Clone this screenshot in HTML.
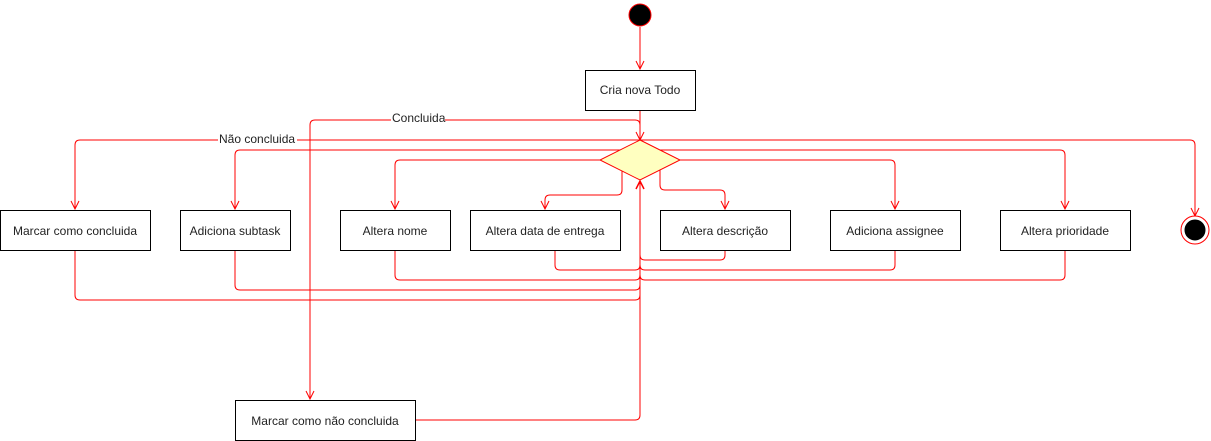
<!DOCTYPE html>
<html><head><meta charset="utf-8"><style>
html,body{margin:0;padding:0;background:#fff;}
svg{display:block;}
text{font-family:"Liberation Sans",sans-serif;font-size:12px;fill:#222;}
</style></head><body>
<svg width="1211" height="441" viewBox="0 0 1211 441" xmlns="http://www.w3.org/2000/svg">
<g fill="none" stroke="#ff0000" stroke-width="1">
<!-- start -->
<line x1="640" y1="27" x2="640" y2="69"/>
<polyline points="636,61 640,69 644,61"/>
<line x1="640" y1="110" x2="640" y2="140"/>
<polyline points="636,132 640,140 644,132"/>
<!-- Concluida -->
<path d="M640,125 Q640,120 635,120 L315,120 Q310,120 310,125 L310,399"/>
<polyline points="306,391 310,399 314,391"/>
<!-- Nao concluida -->
<path d="M75,209 L75,145 Q75,140 80,140 L1190,140 Q1195,140 1195,145 L1195,215"/>
<polyline points="71,201 75,209 79,201"/>
<polyline points="1191,208 1195,216 1199,208"/>
<!-- y=150 -->
<path d="M235,209 L235,155 Q235,150 240,150 L1060,150 Q1065,150 1065,155 L1065,209"/>
<polyline points="231,201 235,209 239,201"/>
<polyline points="1061,201 1065,209 1069,201"/>
<!-- y=160 -->
<path d="M600,160 L400,160 Q395,160 395,165 L395,209"/>
<polyline points="391,201 395,209 399,201"/>
<path d="M680,160 L890,160 Q895,160 895,165 L895,209"/>
<polyline points="891,201 895,209 899,201"/>
<!-- lower branches -->
<path d="M622,171 L622,190 Q622,195 617,195 L550,195 Q545,195 545,200 L545,209"/>
<polyline points="541,201 545,209 549,201"/>
<path d="M660,170 L660,185 Q660,190 665,190 L720,190 Q725,190 725,195 L725,209"/>
<polyline points="721,201 725,209 729,201"/>
<!-- returns -->
<path d="M555,250 L555,265 Q555,270 560,270 L635,270 Q640,270 640,265"/>
<path d="M395,250 L395,275 Q395,280 400,280 L635,280 Q640,280 640,275"/>
<path d="M235,250 L235,285 Q235,290 240,290 L635,290 Q640,290 640,285"/>
<path d="M75,250 L75,295 Q75,300 80,300 L635,300 Q640,300 640,295"/>
<path d="M725,250 L725,255 Q725,260 720,260 L645,260 Q640,260 640,255"/>
<path d="M895,250 L895,265 Q895,270 890,270 L645,270 Q640,270 640,265"/>
<path d="M1065,250 L1065,275 Q1065,280 1060,280 L645,280 Q640,280 640,275"/>
<path d="M415,420 L635,420 Q640,420 640,415 L640,181"/>
<polyline points="636,189 640,181 644,189" stroke-width="1.5"/>
</g>
<!-- start node -->
<circle cx="640" cy="15" r="11" fill="#000" stroke="#ff0000" stroke-width="1"/>
<!-- diamond -->
<polygon points="640,140 680,160 640,180 600,160" fill="#ffffc0" stroke="#ff0000"/>
<!-- end node -->
<circle cx="1195" cy="230" r="14" fill="#fff" stroke="#ff0000"/>
<circle cx="1195" cy="230" r="10" fill="#000" stroke="#000"/>
<!-- labels on lines -->
<rect x="391" y="112" width="54" height="14" fill="#fff"/>
<text x="392" y="122">Concluida</text>
<rect x="218" y="132" width="79" height="14" fill="#fff"/>
<text x="219" y="143">Não concluida</text>
<!-- boxes -->
<g fill="#fff" stroke="#000" stroke-width="1">
<rect x="585.5" y="70.5" width="110" height="40"/>
<rect x="0.5" y="210.5" width="150" height="40"/>
<rect x="180.5" y="210.5" width="110" height="40"/>
<rect x="340.5" y="210.5" width="110" height="40"/>
<rect x="470.5" y="210.5" width="150" height="40"/>
<rect x="660.5" y="210.5" width="130" height="40"/>
<rect x="830.5" y="210.5" width="130" height="40"/>
<rect x="1000.5" y="210.5" width="130" height="40"/>
<rect x="235.5" y="400.5" width="180" height="40"/>
</g>
<g text-anchor="middle">
<text x="640" y="94">Cria nova Todo</text>
<text x="75" y="235">Marcar como concluida</text>
<text x="235" y="235">Adiciona subtask</text>
<text x="395" y="235">Altera nome</text>
<text x="545" y="235">Altera data de entrega</text>
<text x="725" y="235">Altera descrição</text>
<text x="895" y="235">Adiciona assignee</text>
<text x="1065" y="235">Altera prioridade</text>
<text x="325" y="425">Marcar como não concluida</text>
</g>
</svg>
</body></html>
